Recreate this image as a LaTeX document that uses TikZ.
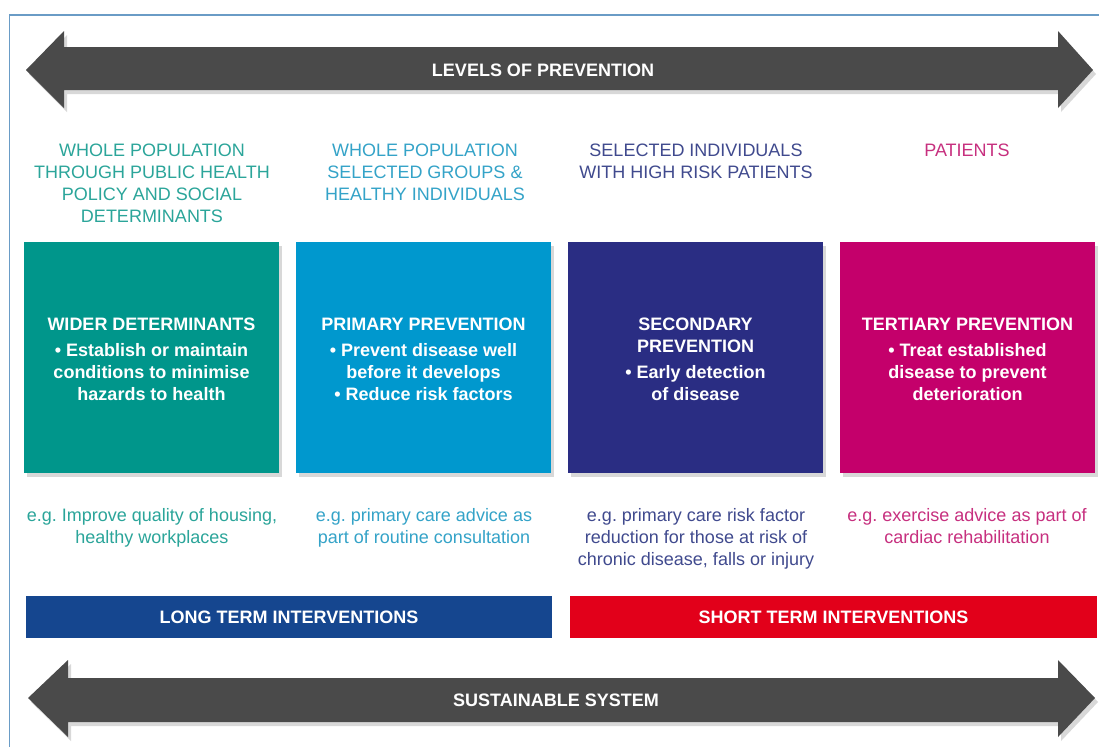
\documentclass[tikz,border=0pt]{standalone}
\usepackage{fontspec}
\setmainfont{Liberation Sans}
\usetikzlibrary{shadows}
\definecolor{frameblue}{HTML}{6A9CC6}
\definecolor{arrowgray}{HTML}{4A4A4A}
\definecolor{cteal}{HTML}{00968B}
\definecolor{cblue}{HTML}{0098CE}
\definecolor{cindigo}{HTML}{2A2D83}
\definecolor{cmagenta}{HTML}{C4006B}
\definecolor{tteal}{HTML}{2BA59A}
\definecolor{tblue}{HTML}{34A3C8}
\definecolor{tindigo}{HTML}{404A8E}
\definecolor{tmagenta}{HTML}{C7307F}
\definecolor{barblue}{HTML}{15468F}
\definecolor{barred}{HTML}{E2001A}
\frenchspacing
\newcommand{\toppad}{\rule{0pt}{17pt}}
\begin{document}
\begin{tikzpicture}[x=1pt,y=-1pt,
  softshadow/.style={drop shadow={opacity=0.3,shadow xshift=3pt,shadow yshift=-4pt}},
  bigarrow/.style={fill=arrowgray,softshadow},
  arrowtext/.style={text=white,inner sep=0pt,font=\fontsize{18}{22}\selectfont\bfseries},
  levelbox/.style={minimum width=255pt,minimum height=231pt,inner sep=0pt,softshadow,
    text=white,font=\fontsize{18}{22}\selectfont\bfseries,align=center},
  grouptext/.style={inner sep=0pt,font=\fontsize{18}{22}\selectfont,align=center},
  bar/.style={minimum width=526pt,minimum height=42pt,inner sep=0pt,
    text=white,font=\fontsize{18}{22}\selectfont\bfseries}
]
\useasboundingbox[fill=white] (0,0) rectangle (1099,747);
\draw[frameblue,line width=1.8pt] (1099,15) -- (9.5,15) -- (9.5,747);

% top arrow
\path[bigarrow] (26,70) -- (64,31) -- (64,47) -- (1058,47) -- (1058,31) -- (1093,70)
  -- (1058,108) -- (1058,90) -- (64,90) -- (64,108) -- cycle;
\node[arrowtext] (levels) at (543,70) {LEVELS OF PREVENTION};

% group labels
\node[grouptext,text=tteal] (g1) at (152,183) {WHOLE POPULATION\\THROUGH PUBLIC HEALTH\\POLICY AND SOCIAL\\DETERMINANTS};
\node[grouptext,text=tblue] (g2) at (425,172) {WHOLE POPULATION\\SELECTED GROUPS \&\\HEALTHY INDIVIDUALS};
\node[grouptext,text=tindigo] (g3) at (696,161) {SELECTED INDIVIDUALS\\WITH HIGH RISK PATIENTS};
\node[grouptext,text=tmagenta] (g4) at (967,150) {PATIENTS};

% boxes
\node[levelbox,fill=cteal] (b1) at (151.5,357.5) {\toppad WIDER DETERMINANTS\\[4pt]\textbullet{} Establish or maintain\\conditions to minimise\\hazards to health};
\node[levelbox,fill=cblue] (b2) at (423.5,357.5) {\toppad PRIMARY PREVENTION\\[4pt]\textbullet{} Prevent disease well\\before it develops\\\textbullet{} Reduce risk factors};
\node[levelbox,fill=cindigo] (b3) at (695.5,357.5) {\toppad SECONDARY\\PREVENTION\\[4pt]\textbullet{} Early detection\\of disease};
\node[levelbox,fill=cmagenta] (b4) at (967.5,357.5) {\toppad TERTIARY PREVENTION\\[4pt]\textbullet{} Treat established\\disease to prevent\\deterioration};

% examples
\node[grouptext,text=tteal] (e1) at (152,528) {e.g. Improve quality of housing,\\healthy workplaces};
\node[grouptext,text=tblue] (e2) at (424,528) {e.g. primary care advice as\\part of routine consultation};
\node[grouptext,text=tindigo] (e3) at (696,539) {e.g. primary care risk factor\\reduction for those at risk of\\chronic disease, falls or injury};
\node[grouptext,text=tmagenta] (e4) at (967,526) {e.g. exercise advice as part of\\cardiac rehabilitation};

% bars
\node[bar,fill=barblue] (long) at (289,617) {LONG TERM INTERVENTIONS};
\node[bar,fill=barred,minimum width=527pt] (short) at (833.5,617) {SHORT TERM INTERVENTIONS};

% bottom arrow
\path[bigarrow] (28,698) -- (68,660) -- (68,678) -- (1058,678) -- (1058,660) -- (1095,698)
  -- (1058,737) -- (1058,722) -- (68,722) -- (68,737) -- cycle;
\node[arrowtext] (sustain) at (556,700) {SUSTAINABLE SYSTEM};
\end{tikzpicture}
\end{document}
